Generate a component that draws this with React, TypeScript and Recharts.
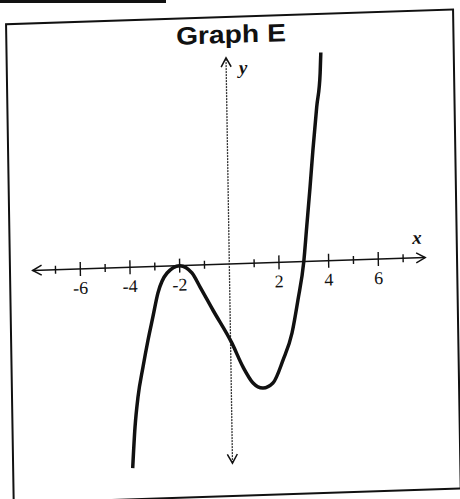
import React from 'react';
import { LineChart, Line, XAxis, YAxis, ReferenceLine } from 'recharts';

// Points along the cubic
const curveX = [
  -4.02, -3.9, -3.76, -3.54, -3.32, -3.11, -2.89, -2.51, -2.0, -1.51, -1.19, -0.69, 0.05,
  0.49, 0.88, 1.28, 1.68, 2.1, 2.48, 2.74, 3.0, 3.14, 3.3, 3.44, 3.62, 3.78, 3.82,
];
const curveY = [
  -8.09, -6.44, -5.23, -4.03, -2.95, -2.03, -1.07, -0.28, 0, -0.31, -0.89, -1.83, -3.18,
  -4.17, -4.82, -5.04, -4.85, -3.94, -2.86, -1.54, 0, 1.39, 2.99, 4.48, 6.21, 7.57, 8.39,
];

// x-axis tick marks, and the ones that carry a number
const tickValues = [-7, -6, -5, -4, -3, -2, -1, 1, 2, 3, 4, 5, 6, 7];
const tickLabels = [-6, -4, -2, 2, 4, 6];

// where the axis arrows end
const xAxisEnds = [-7.92, 7.89];
const yAxisEnds = [-8.02, 8.3];

const xDomain = [-9, 9];
const yDomain = [-9, 10];

const curveData = curveX.map((x, i) => ({ x, y: curveY[i] }));

const INK = '#111';

// chevron arrow head pointing along (dx, dy) with its tip at (tx, ty)
const headPoints = (tx: number, ty: number, dx: number, dy: number) => {
  const nx = -dy;
  const ny = dx;
  return `${tx - 9 * dx + 5 * nx},${ty - 9 * dy + 5 * ny} ${tx},${ty} ${tx - 9 * dx - 5 * nx},${ty - 9 * dy - 5 * ny}`;
};

const ArrowAxis = ({ x1, y1, x2, y2, dashed, name, nameDx, nameDy }: any) => {
  const len = Math.hypot(x2 - x1, y2 - y1) || 1;
  const ux = (x2 - x1) / len;
  const uy = (y2 - y1) / len;
  return (
    <g>
      <line
        x1={x1}
        y1={y1}
        x2={x2}
        y2={y2}
        stroke={dashed ? '#333' : INK}
        strokeWidth={dashed ? 1.3 : 1.5}
        strokeDasharray={dashed ? '2 1' : undefined}
      />
      <polyline points={headPoints(x2, y2, ux, uy)} fill="none" stroke={INK} strokeWidth={1.5} />
      <polyline points={headPoints(x1, y1, -ux, -uy)} fill="none" stroke={INK} strokeWidth={1.5} />
      <text
        x={x2 + nameDx}
        y={y2 + nameDy}
        textAnchor="middle"
        fontFamily="'Liberation Serif', serif"
        fontStyle="italic"
        fontWeight="bold"
        fontSize={19}
        fill={INK}
      >
        {name}
      </text>
    </g>
  );
};

const TickMark = ({ x1, y1, x2, y2, label }: any) => {
  const x = (x1 + x2) / 2;
  const y = (y1 + y2) / 2;
  const half = label !== undefined ? 7 : 4;
  return (
    <g>
      <line x1={x} y1={y - half} x2={x} y2={y + half} stroke={INK} strokeWidth={1.4} />
      {label !== undefined && (
        <text
          x={x}
          y={y + 25}
          textAnchor="middle"
          fontFamily="'Liberation Serif', serif"
          fontSize={18}
          fill={INK}
        >
          {String(label)}
        </text>
      )}
    </g>
  );
};

export default function App() {
  return (
    <div
      style={{
        position: 'absolute',
        left: 0,
        top: 0,
        width: 460,
        height: 499,
        overflow: 'hidden',
        background: '#fff',
      }}
    >
      {/* edge of the box above */}
      <div style={{ position: 'absolute', left: 0, top: 0, width: 166, height: 3, background: INK }} />

      {/* the whole panel sits slightly skewed on the page */}
      <div
        style={{
          position: 'absolute',
          left: 0,
          top: 0,
          width: 460,
          height: 499,
          transform: 'matrix(1, -0.033, 0.016, 1, 0, 0)',
          transformOrigin: '229.3px 264px',
        }}
      >
        <div
          style={{
            position: 'absolute',
            left: 8.5,
            top: 16,
            width: 449.5,
            height: 480.5,
            border: `2.5px solid ${INK}`,
            boxSizing: 'border-box',
          }}
        />
        <div
          style={{
            position: 'absolute',
            left: 0,
            top: 21.8,
            width: 469,
            textAlign: 'center',
            fontFamily: "'Liberation Sans', Arial, sans-serif",
            fontWeight: 'bold',
            fontSize: 25,
            lineHeight: '25px',
            color: INK,
          }}
        >
          <span style={{ display: 'inline-block', transform: 'scaleX(1.13)' }}>Graph E</span>
        </div>

        <LineChart
          width={460}
          height={499}
          data={curveData}
          margin={{ top: 15.7, right: 7.23, bottom: 11.53, left: 5.83 }}
          style={{ position: 'absolute', left: 0, top: 0 }}
        >
          <XAxis dataKey="x" type="number" domain={xDomain} allowDataOverflow hide />
          <YAxis type="number" domain={yDomain} allowDataOverflow hide />

          <ReferenceLine
            segment={[
              { x: xAxisEnds[0], y: 0 },
              { x: xAxisEnds[1], y: 0 },
            ]}
            shape={(p: any) => <ArrowAxis {...p} name="x" nameDx={-8} nameDy={-14} />}
          />
          <ReferenceLine
            segment={[
              { x: 0, y: yAxisEnds[0] },
              { x: 0, y: yAxisEnds[1] },
            ]}
            shape={(p: any) => <ArrowAxis {...p} dashed name="y" nameDx={17} nameDy={16.6} />}
          />
          {tickValues.map((t) => (
            <ReferenceLine
              key={t}
              segment={[
                { x: t, y: -0.2 },
                { x: t, y: 0.2 },
              ]}
              shape={(p: any) => (
                <TickMark {...p} label={tickLabels.includes(t) ? t : undefined} />
              )}
            />
          ))}

          <Line
            type="monotone"
            dataKey="y"
            stroke={INK}
            strokeWidth={3.5}
            dot={false}
            activeDot={false}
            isAnimationActive={false}
          />
        </LineChart>
      </div>
    </div>
  );
}
